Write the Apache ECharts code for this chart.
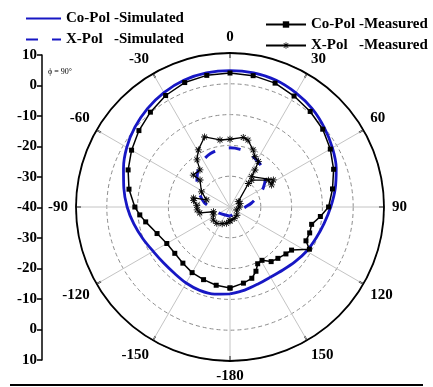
<!DOCTYPE html>
<html><head><meta charset="utf-8">
<script src="https://cdn.jsdelivr.net/npm/echarts@6/dist/echarts.min.js"></script>
<style>html,body{margin:0;padding:0;background:#fff}#c{width:433px;height:387px}</style>
</head><body><div id="c"></div>
<script>
// ---- data (angle in degrees, value in dB) ----
const leftAxisLabels = [10, 0, -10, -20, -30, -40, -30, -20, -10, 0, 10];

const coSimAngles = [-180,-170,-160,-150,-140,-130,-120,-110,-100,-90,-80,-70,-60,-50,-40,-30,-20,-10,0,10,20,30,40,50,60,70,80,90,100,110,120,130,140,150,160,170,180];
const coSimDb     = [-11.8,-11.3,-11.2,-11.5,-11.9,-11.8,-11.2,-9.9,-8.3,-6.6,-5.0,-3.2,-1.3,0.3,1.7,2.9,3.8,4.2,4.3,4.2,3.8,2.8,1.6,0.0,-1.6,-3.3,-5.3,-7.3,-9.0,-10.3,-11.3,-12.4,-13.3,-13.7,-13.4,-12.6,-11.8];

const xSimAngles = [-180,-150,-120,-110,-100,-90,-80,-70,-60,-50,-40,-30,-20,-10,0,10,20,30,40,50,60,70,80,90,100,120,150,180];
const xSimDb     = [-37,-37,-36,-35.4,-34.5,-33.5,-31.5,-29.8,-28,-26,-24,-22.5,-21.5,-21,-20.8,-21,-21.5,-22.5,-23.5,-25,-27.5,-30.5,-33,-35,-36,-37,-37.5,-37];

const coMeasAngles = [-180,-170,-160,-150,-140,-130,-120,-110,-100,-95,-90,-80,-70,-60,-50,-40,-30,-20,-10,0,10,20,30,40,50,60,70,80,90,96,102,108,114,118,125,130,137,143,149,154,158,163,170,180];
const coMeasDb     = [-13.7,-14.2,-14.9,-15.4,-16.2,-16.6,-16.3,-14.8,-12.2,-10.6,-9.1,-6.7,-4.8,-3.1,-1.4,0.2,1.8,3.0,3.4,3.5,3.3,2.8,1.6,0.5,-0.7,-2.4,-4.2,-6.2,-8.0,-10.5,-12.9,-12.8,-13.0,-10.8,-15.6,-16.3,-17.2,-17.8,-19.8,-19.5,-17.5,-15.8,-14.9,-13.7];

const xMeasAngles = [-180,-168,-155,-141,-128,-115,-106,-101,-95,-87,-80,-76,-73,-62,-48,-49,-39,-35,-29,-20,-8.5,0,10.8,15,22,26.4,32,34,35.5,58,62,55,39,38,57,70,90,114,140,160,180];
const xMeasDb     = [-35.5,-34.6,-34,-33.2,-33.1,-34,-34.4,-30,-29.3,-29.2,-28,-27.8,-32.1,-29.5,-26.9,-24.2,-24.5,-21.3,-18.8,-15.8,-18,-18,-17,-17.5,-20,-21.8,-22.6,-25.5,-27.9,-23.4,-24.7,-24.8,-28.8,-30.3,-36.8,-36.5,-37,-37.6,-36.5,-36,-35.5];

const names = ['Co-Pol -Simulated', 'X-Pol   -Simulated', 'Co-Pol -Measured', 'X-Pol   -Measured'];

// ---- chart ----
const zip = (r, a) => r.map((v, i) => [v, a[i]]);
const FONT = 'Liberation Serif';
const BLUE = '#1717c4';
const asterisk = 'path://M-0.6,-5L0.6,-5L0.6,5L-0.6,5Z M-5,-0.6L5,-0.6L5,0.6L-5,0.6Z M-3.12,-3.96L3.96,3.12L3.12,3.96L-3.96,-3.12Z M-3.12,3.96L3.96,-3.12L3.12,-3.96L-3.96,3.12Z';
const labelStyle = {fontFamily: FONT, fontWeight: 'bold', fontSize: 15, color: '#000'};
const noSymbol = {color: 'rgba(0,0,0,0)', borderWidth: 0, borderColor: 'rgba(0,0,0,0)'};

const chart = echarts.init(document.getElementById('c'), null, {renderer: 'canvas'});
chart.setOption({
  animation: false,
  backgroundColor: '#fff',
  polar: {center: [230, 207], radius: 154},
  angleAxis: {
    type: 'value', min: -180, max: 180, interval: 30, startAngle: 270, clockwise: true,
    axisLine: {show: true, lineStyle: {color: '#000', width: 1.8}},
    axisTick: {show: true, inside: true, length: 5, lineStyle: {color: '#000', width: 1.5}},
    axisLabel: Object.assign({margin: 8, formatter: v => (v === 180 ? '' : String(v))}, labelStyle),
    splitLine: {show: true, lineStyle: {color: '#c4c4c4', width: 1}}
  },
  radiusAxis: {
    type: 'value', min: -40, max: 10, interval: 10,
    axisLine: {show: false}, axisTick: {show: false}, axisLabel: {show: false},
    splitLine: {show: true, lineStyle: {color: '#8c8c8c', width: 1, type: [4, 3]}}
  },
  grid: {left: 42, top: 55, width: 1, height: 305},
  xAxis: {type: 'value', show: false, min: 0, max: 1},
  yAxis: {
    type: 'value', min: -50, max: 50, interval: 10,
    axisLine: {show: true, lineStyle: {color: '#000', width: 1.5}},
    axisTick: {show: true, length: 5, lineStyle: {color: '#000', width: 1.5}},
    splitLine: {show: false},
    axisLabel: Object.assign({margin: 5, formatter: v => String(leftAxisLabels[Math.round((50 - v) / 10)])}, labelStyle)
  },
  legend: [
    {orient: 'vertical', left: 20, top: 6, itemWidth: 35, itemHeight: 8, itemGap: 6,
     data: [{name: names[0], itemStyle: noSymbol}, {name: names[1], itemStyle: noSymbol}], textStyle: labelStyle},
    {orient: 'vertical', left: 260, top: 12, itemWidth: 40, itemHeight: 8, itemGap: 6,
     data: [names[2], names[3]], textStyle: labelStyle}
  ],
  series: [
    {name: names[0], type: 'line', coordinateSystem: 'polar', smooth: 0.3, symbol: 'none',
     data: zip(coSimDb, coSimAngles), lineStyle: {color: BLUE, width: 2.8}, itemStyle: {color: BLUE}},
    {name: names[1], type: 'line', coordinateSystem: 'polar', smooth: 0.3, symbol: 'none',
     data: zip(xSimDb, xSimAngles), lineStyle: {color: BLUE, width: 3, type: [12, 14]}, itemStyle: {color: BLUE}},
    {name: names[2], type: 'line', coordinateSystem: 'polar', symbol: 'rect', symbolSize: 5,
     data: zip(coMeasDb, coMeasAngles), lineStyle: {color: '#000', width: 1.5}, itemStyle: {color: '#000'}},
    {name: names[3], type: 'line', coordinateSystem: 'polar', symbol: asterisk, symbolSize: 7,
     data: zip(xMeasDb, xMeasAngles), lineStyle: {color: '#000', width: 1.3}, itemStyle: {color: '#000'}}
  ],
  graphic: [
    {type: 'text', left: 48, top: 68, style: {text: 'ϕ = 90°', font: '8px "Liberation Serif"', fill: '#000'}},
    {type: 'line', shape: {x1: 10, y1: 385, x2: 423, y2: 385}, style: {stroke: '#000', lineWidth: 2}}
  ]
});
</script></body></html>
